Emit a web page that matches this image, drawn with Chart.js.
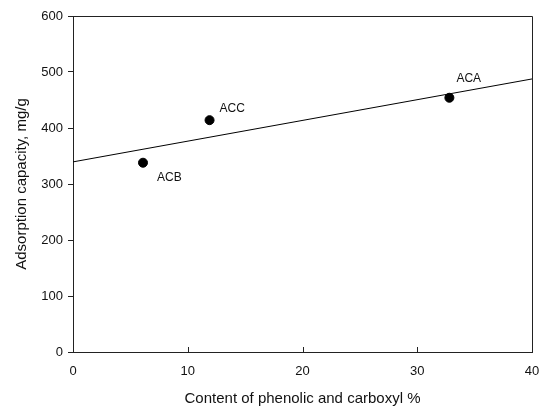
<!DOCTYPE html>
<html>
<head>
<meta charset="utf-8">
<script src="https://cdn.jsdelivr.net/npm/chart.js@4/dist/chart.umd.min.js"></script>
<style>
  html, body { margin: 0; padding: 0; background: #fff; }
  #wrap { width: 545px; height: 408px; }
</style>
</head>
<body>
<div id="wrap"><canvas id="chart" width="545" height="408"></canvas></div>
<script>
'use strict';

// ── Data ─────────────────────────────────────────────
const sampleNames = ['ACB', 'ACC', 'ACA'];
const phenolicContent = [6.1, 11.9, 32.8];
const adsorptionCapacity = [338, 414, 454];
const fitX = [0, 40];
const fitY = [339.5, 487.6];
const xTicks = [0, 10, 20, 30, 40];
const yTicks = [0, 100, 200, 300, 400, 500, 600];
// label offsets (px) from each point
const labelOffsets = [[14, 15], [10, -11], [7, -19]];

const FONT = 'Liberation Sans, Arial, sans-serif';

// ── Plugin: frame, inward x ticks, point labels ──────
const decorations = {
  id: 'decorations',
  afterDatasetsDraw(chart) {
    const { ctx, chartArea: a, scales: { x, y } } = chart;
    ctx.save();
    ctx.strokeStyle = '#222';
    ctx.lineWidth = 1;
    ctx.beginPath();
    ctx.moveTo(a.left, a.top + 0.5);
    ctx.lineTo(a.right + 0.5, a.top + 0.5);
    ctx.lineTo(a.right + 0.5, a.bottom);
    ctx.stroke();
    xTicks.forEach(v => {
      const px = Math.round(x.getPixelForValue(v)) + 0.5;
      ctx.beginPath();
      ctx.moveTo(px, a.bottom);
      ctx.lineTo(px, a.bottom - 5);
      ctx.stroke();
    });
    ctx.fillStyle = '#111';
    ctx.font = '12px ' + FONT;
    ctx.textBaseline = 'middle';
    sampleNames.forEach((name, i) => {
      const px = x.getPixelForValue(phenolicContent[i]);
      const py = y.getPixelForValue(adsorptionCapacity[i]);
      ctx.fillText(name, px + labelOffsets[i][0], py + labelOffsets[i][1]);
    });
    ctx.restore();
  }
};

new Chart(document.getElementById('chart'), {
  type: 'scatter',
  data: {
    datasets: [
      {
        label: 'fit',
        type: 'line',
        data: fitX.map((v, i) => ({ x: v, y: fitY[i] })),
        borderColor: '#000',
        borderWidth: 1,
        pointRadius: 0,
        fill: false,
      },
      {
        label: 'samples',
        data: phenolicContent.map((v, i) => ({ x: v, y: adsorptionCapacity[i] })),
        backgroundColor: '#000',
        borderColor: '#000',
        pointRadius: 4.5,
      },
    ],
  },
  options: {
    responsive: false,
    animation: false,
    layout: { padding: { top: 16, right: 13, left: 0, bottom: 0 } },
    plugins: { legend: { display: false }, tooltip: { enabled: false } },
    scales: {
      x: {
        type: 'linear',
        min: 0, max: 40,
        afterBuildTicks: s => { s.ticks = xTicks.map(v => ({ value: v })); },
        afterFit: s => { s.height = 56; s.paddingLeft = 0; s.paddingRight = 0; },
        grid: { display: true, drawOnChartArea: false, drawTicks: false },
        border: { color: '#222', width: 1 },
        ticks: { color: '#111', font: { family: FONT, size: 13 }, padding: 12, maxRotation: 0 },
        title: {
          display: true,
          text: 'Content of phenolic and carboxyl %',
          color: '#111',
          font: { family: FONT, size: 15 },
          padding: { top: 10, bottom: 0 },
        },
      },
      y: {
        type: 'linear',
        min: 0, max: 600,
        afterBuildTicks: s => { s.ticks = yTicks.map(v => ({ value: v })); },
        afterFit: s => { s.width = 73; s.paddingTop = 0; s.paddingBottom = 0; },
        grid: { display: true, drawOnChartArea: false, drawTicks: true, tickLength: 5, color: '#222' },
        border: { color: '#222', width: 1 },
        ticks: { color: '#111', font: { family: FONT, size: 13 }, padding: 5 },
        title: {
          display: true,
          text: 'Adsorption capacity, mg/g',
          color: '#111',
          font: { family: FONT, size: 15 },
          padding: { top: 13, bottom: 0 },
        },
      },
    },
  },
  plugins: [decorations],
});
</script>
</body>
</html>
